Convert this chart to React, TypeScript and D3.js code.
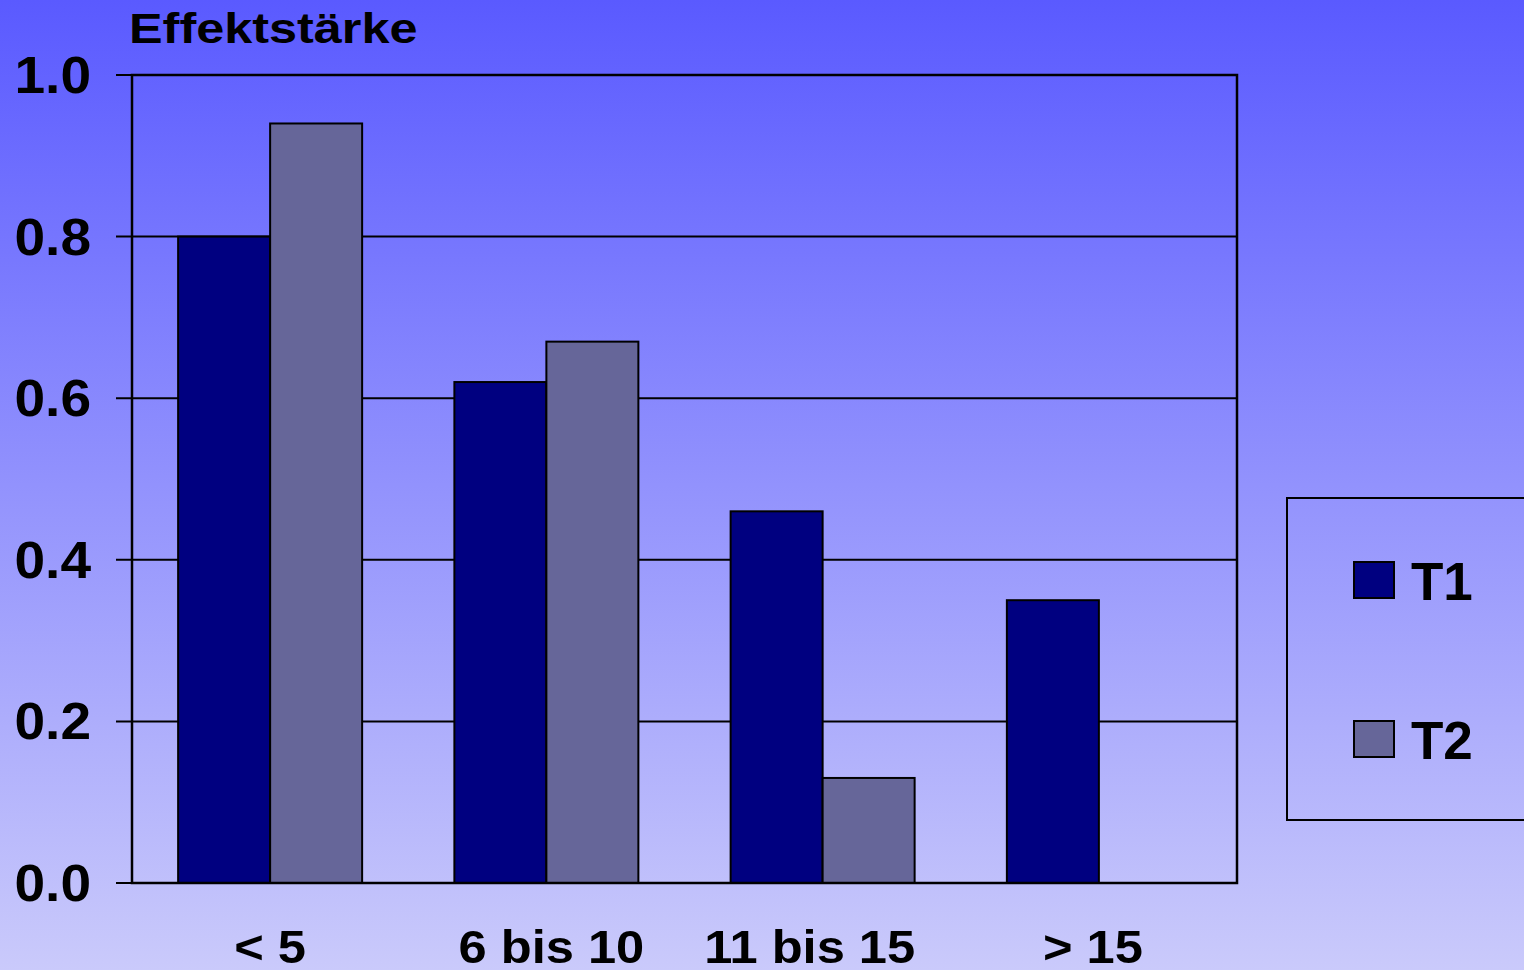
import React from "react";
import * as d3 from "d3";

const categories = ["< 5", "6 bis 10", "11 bis 15", "> 15"];
const seriesNames = ["T1", "T2"];
const t1Values: (number | null)[] = [0.8, 0.62, 0.46, 0.35];
const t2Values: (number | null)[] = [0.94, 0.67, 0.13, null];
const yTicks = [0, 0.2, 0.4, 0.6, 0.8, 1.0];
const yTitle = "Effektstärke";
const colors = ["#000080", "#666699"];
const labelOffsets = [0, 5, -13, -6];

const W = 1524;
const H = 970;
const left = 132;
const right = 1237;
const top = 75;
const bottom = 883;
const FONT = "'Liberation Sans', Arial, sans-serif";

export default function App() {
  const x = d3.scaleBand<string>().domain(categories).range([left, right]).paddingInner(0).paddingOuter(0);
  const y = d3.scaleLinear().domain([0, 1]).range([bottom, top]);
  const inner = d3.scaleBand<string>().domain(seriesNames).range([-92, 92]);
  const series = [t1Values, t2Values];

  return (
    <svg width={W} height={H} style={{ position: "absolute", left: 0, top: 0 }}>
      <defs>
        <linearGradient id="bg" x1="0" y1="0" x2="0" y2="1">
          <stop offset="0" stopColor="#5a5aff" />
          <stop offset="1" stopColor="#cacafb" />
        </linearGradient>
      </defs>
      <rect x={0} y={0} width={W} height={H} fill="url(#bg)" />
      {yTicks.map((t) => (
        <line key={"g" + t} x1={left - 16} x2={right} y1={y(t)} y2={y(t)} stroke="#000" strokeWidth={2} />
      ))}
      {series.map((vals, si) =>
        vals.map((v, ci) =>
          v == null ? null : (
            <rect
              key={`b${si}-${ci}`}
              x={(x(categories[ci]) as number) + x.bandwidth() / 2 + (inner(seriesNames[si]) as number)}
              y={y(v)}
              width={inner.bandwidth()}
              height={y(0) - y(v)}
              fill={colors[si]}
              stroke="#000"
              strokeWidth={2}
            />
          )
        )
      )}
      <rect x={left} y={top} width={right - left} height={bottom - top} fill="none" stroke="#000" strokeWidth={2.5} />
      {yTicks.map((t) => (
        <text
          key={"yl" + t}
          transform={`translate(91, ${y(t) + 18}) scale(1.08,1)`}
          textAnchor="end"
          fontFamily={FONT}
          fontWeight="bold"
          fontSize={51}
          fill="#000"
        >
          {t.toFixed(1)}
        </text>
      ))}
      {categories.map((c, i) => (
        <text
          key={"xl" + c}
          transform={`translate(${(x(c) as number) + x.bandwidth() / 2 + labelOffsets[i]}, 963) scale(1.1,1)`}
          textAnchor="middle"
          fontFamily={FONT}
          fontWeight="bold"
          fontSize={46}
          fill="#000"
        >
          {c}
        </text>
      ))}
      <text transform="translate(129, 43) scale(1.2,1)" fontFamily={FONT} fontWeight="bold" fontSize={42} fill="#000">
        {yTitle}
      </text>
      <rect x={1287} y={498} width={260} height={322} fill="none" stroke="#000" strokeWidth={2} />
      {seriesNames.map((s, i) => (
        <g key={"lg" + s} transform={`translate(1354, ${562 + i * 159})`}>
          <rect x={0} y={0} width={40} height={36} fill={colors[i]} stroke="#000" strokeWidth={2} />
          <text x={57} y={38} fontFamily={FONT} fontWeight="bold" fontSize={53} fill="#000">
            {s}
          </text>
        </g>
      ))}
    </svg>
  );
}
